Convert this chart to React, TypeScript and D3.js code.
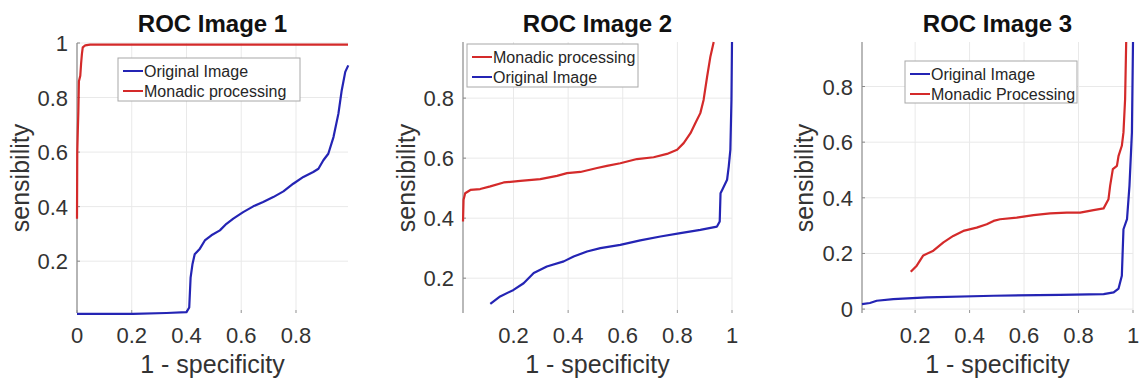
import React from "react";
import * as d3 from "d3";

// ---------- data ----------
const titles = ["ROC Image 1", "ROC Image 2", "ROC Image 3"];
const xLabel = "1 - specificity";
const yLabel = "sensibility";

const p1XTicks = [0, 0.2, 0.4, 0.6, 0.8];
const p1YTicks = [0.2, 0.4, 0.6, 0.8, 1];
const p2XTicks = [0.2, 0.4, 0.6, 0.8, 1];
const p2YTicks = [0.2, 0.4, 0.6, 0.8];
const p3XTicks = [0.2, 0.4, 0.6, 0.8, 1];
const p3YTicks = [0, 0.2, 0.4, 0.6, 0.8];

const p1Legend = ["Original Image", "Monadic processing"];
const p2Legend = ["Monadic processing", "Original Image"];
const p3Legend = ["Original Image", "Monadic Processing"];

// Panel 1
const p1OrigX = [0, 0.205, 0.327, 0.4, 0.41, 0.415, 0.422, 0.43, 0.449, 0.467, 0.491, 0.522, 0.546, 0.571, 0.607, 0.644, 0.68, 0.717, 0.754, 0.79, 0.827, 0.863, 0.882, 0.9, 0.918, 0.937, 0.955, 0.967, 0.98, 0.991];
const p1OrigY = [0.007, 0.007, 0.01, 0.013, 0.03, 0.14, 0.19, 0.225, 0.246, 0.276, 0.295, 0.313, 0.337, 0.356, 0.38, 0.401, 0.417, 0.435, 0.456, 0.484, 0.509, 0.527, 0.539, 0.57, 0.594, 0.655, 0.741, 0.826, 0.894, 0.918];
const p1MonoX = [0, 0.001, 0.003, 0.005, 0.007, 0.012, 0.015, 0.018, 0.021, 0.03, 0.048, 0.99];
const p1MonoY = [0.356, 0.6, 0.68, 0.75, 0.86, 0.88, 0.925, 0.96, 0.984, 0.991, 0.994, 0.994];

// Panel 2
const p2MonoX = [0.015, 0.017, 0.023, 0.042, 0.078, 0.115, 0.164, 0.225, 0.298, 0.359, 0.396, 0.445, 0.506, 0.542, 0.591, 0.652, 0.713, 0.762, 0.799, 0.823, 0.848, 0.866, 0.884, 0.896, 0.909, 0.921, 0.933];
const p2MonoY = [0.389, 0.461, 0.483, 0.494, 0.497, 0.506, 0.519, 0.524, 0.53, 0.541, 0.55, 0.554, 0.567, 0.574, 0.583, 0.597, 0.603, 0.614, 0.628, 0.65, 0.683, 0.717, 0.75, 0.794, 0.872, 0.939, 0.987];
const p2OrigX = [0.115, 0.151, 0.2, 0.237, 0.274, 0.322, 0.384, 0.42, 0.469, 0.518, 0.591, 0.664, 0.738, 0.811, 0.884, 0.945, 0.955, 0.958, 0.964, 0.982, 0.988, 0.994, 0.998, 1.0];
const p2OrigY = [0.114, 0.139, 0.161, 0.183, 0.217, 0.239, 0.256, 0.272, 0.289, 0.3, 0.311, 0.326, 0.339, 0.35, 0.361, 0.372, 0.389, 0.483, 0.494, 0.528, 0.572, 0.628, 0.794, 0.987];

// Panel 3
const p3OrigX = [0.005, 0.034, 0.059, 0.12, 0.243, 0.488, 0.733, 0.892, 0.929, 0.947, 0.959, 0.965, 0.978, 0.987, 0.996, 1.0];
const p3OrigY = [0.018, 0.022, 0.03, 0.036, 0.042, 0.048, 0.051, 0.054, 0.06, 0.074, 0.12, 0.287, 0.323, 0.443, 0.635, 0.96];
const p3MonoX = [0.184, 0.206, 0.23, 0.267, 0.304, 0.34, 0.377, 0.426, 0.463, 0.488, 0.512, 0.573, 0.635, 0.696, 0.757, 0.806, 0.855, 0.892, 0.91, 0.916, 0.926, 0.941, 0.947, 0.959, 0.965, 0.971, 0.975];
const p3MonoY = [0.134, 0.156, 0.193, 0.21, 0.24, 0.263, 0.281, 0.293, 0.305, 0.317, 0.323, 0.329, 0.338, 0.344, 0.347, 0.347, 0.356, 0.362, 0.395, 0.443, 0.503, 0.515, 0.551, 0.587, 0.635, 0.754, 0.96];

// ---------- styling ----------
const BLUE = "#2424b4";
const RED = "#d42a2a";
const FONT = "'Liberation Sans', Arial, Helvetica, sans-serif";

const fmt = (v: number) => (v === 0 ? "0" : v === 1 ? "1" : String(+v.toFixed(1)));

type Series = { xs: number[]; ys: number[]; color: string };

type PanelCfg = {
  title: string;
  left: number; right: number; top: number; bottom: number;
  xDomain: [number, number]; yDomain: [number, number];
  xTicks: number[]; yTicks: number[];
  series: Series[];
  legend: { labels: string[]; colors: string[]; x: number; y: number; w: number; h: number };
  yLabelX: number;
};

const panels: PanelCfg[] = [
  {
    title: titles[0], left: 77, right: 348, top: 43, bottom: 313,
    xDomain: [0, 0.99], yDomain: [0.01, 1.0],
    xTicks: p1XTicks, yTicks: p1YTicks,
    series: [
      { xs: p1OrigX, ys: p1OrigY, color: BLUE },
      { xs: p1MonoX, ys: p1MonoY, color: RED },
    ],
    legend: { labels: p1Legend, colors: [BLUE, RED], x: 118, y: 58, w: 182, h: 43 },
    yLabelX: 29,
  },
  {
    title: titles[1], left: 463, right: 732, top: 42, bottom: 313,
    xDomain: [0.015, 1], yDomain: [0.084, 0.987],
    xTicks: p2XTicks, yTicks: p2YTicks,
    series: [
      { xs: p2OrigX, ys: p2OrigY, color: BLUE },
      { xs: p2MonoX, ys: p2MonoY, color: RED },
    ],
    legend: { labels: p2Legend, colors: [RED, BLUE], x: 467, y: 44, w: 171, h: 43 },
    yLabelX: 415,
  },
  {
    title: titles[2], left: 862, right: 1133, top: 42, bottom: 313,
    xDomain: [0.005, 1], yDomain: [-0.014, 0.96],
    xTicks: p3XTicks, yTicks: p3YTicks,
    series: [
      { xs: p3OrigX, ys: p3OrigY, color: BLUE },
      { xs: p3MonoX, ys: p3MonoY, color: RED },
    ],
    legend: { labels: p3Legend, colors: [BLUE, RED], x: 905, y: 61, w: 172, h: 42 },
    yLabelX: 813,
  },
];

function Panel({ p }: { p: PanelCfg }) {
  const x = d3.scaleLinear().domain(p.xDomain).range([p.left, p.right]);
  const y = d3.scaleLinear().domain(p.yDomain).range([p.bottom, p.top]);
  const cx = (p.left + p.right) / 2;
  const lineGen = d3
    .line<[number, number]>()
    .x((d) => x(d[0]))
    .y((d) => y(d[1]));
  return (
    <g>
      {/* grid */}
      {p.xTicks.map((t) => (
        <line key={"gx" + t} x1={x(t)} x2={x(t)} y1={p.top} y2={p.bottom} stroke="#e9e9e9" strokeWidth={1} />
      ))}
      {p.yTicks.map((t) => (
        <line key={"gy" + t} x1={p.left} x2={p.right} y1={y(t)} y2={y(t)} stroke="#e9e9e9" strokeWidth={1} />
      ))}
      {/* x tick marks */}
      {p.xTicks.map((t) => (
        <line key={"tx" + t} x1={x(t)} x2={x(t)} y1={p.bottom} y2={p.bottom - 3} stroke="#9a9a9a" strokeWidth={1} />
      ))}
      {/* y axis line */}
      <line x1={p.left} x2={p.left} y1={p.top} y2={p.bottom} stroke="#8a8a8a" strokeWidth={1.2} />
      {p.yTicks.map((t) => (
        <line key={"ty" + t} x1={p.left} x2={p.left + 3} y1={y(t)} y2={y(t)} stroke="#8a8a8a" strokeWidth={1} />
      ))}
      {/* series */}
      {p.series.map((s, i) => (
        <path
          key={"s" + i}
          d={lineGen(s.xs.map((v, k) => [v, s.ys[k]] as [number, number])) || ""}
          fill="none"
          stroke={s.color}
          strokeWidth={2.2}
          strokeLinejoin="round"
        />
      ))}
      {/* legend */}
      <rect x={p.legend.x} y={p.legend.y} width={p.legend.w} height={p.legend.h} fill="white" stroke="#a8a8a8" strokeWidth={1} />
      {p.legend.labels.map((lab, i) => {
        const ry = p.legend.y + 13 + i * 20;
        return (
          <g key={"l" + i}>
            <line x1={p.legend.x + 5} x2={p.legend.x + 25} y1={ry} y2={ry} stroke={p.legend.colors[i]} strokeWidth={2} />
            <text x={p.legend.x + 26} y={ry + 5.5} fontSize={16} fill="#262626" fontFamily={FONT}>
              {lab}
            </text>
          </g>
        );
      })}
      {/* tick labels */}
      {p.xTicks.map((t) => (
        <text key={"lx" + t} x={x(t)} y={343} fontSize={22} fill="#333" textAnchor="middle" fontFamily={FONT}>
          {fmt(t)}
        </text>
      ))}
      {p.yTicks.map((t) => (
        <text key={"ly" + t} x={p.left - 9} y={y(t) + 8} fontSize={22} fill="#333" textAnchor="end" fontFamily={FONT}>
          {fmt(t)}
        </text>
      ))}
      {/* labels */}
      <text x={cx} y={373} fontSize={25} fill="#333" textAnchor="middle" fontFamily={FONT}>
        {xLabel}
      </text>
      <text
        transform={`translate(${p.yLabelX},${178}) rotate(-90)`}
        fontSize={25}
        fill="#333"
        textAnchor="middle"
        fontFamily={FONT}
      >
        {yLabel}
      </text>
      <text x={cx} y={32} fontSize={24} fontWeight="bold" fill="#111" textAnchor="middle" fontFamily={FONT}>
        {p.title}
      </text>
    </g>
  );
}

export default function App() {
  return (
    <svg
      width={1140}
      height={388}
      style={{ position: "absolute", left: 0, top: 0, background: "white" }}
    >
      <rect x={0} y={0} width={1140} height={388} fill="white" />
      {panels.map((p, i) => (
        <Panel key={i} p={p} />
      ))}
    </svg>
  );
}
